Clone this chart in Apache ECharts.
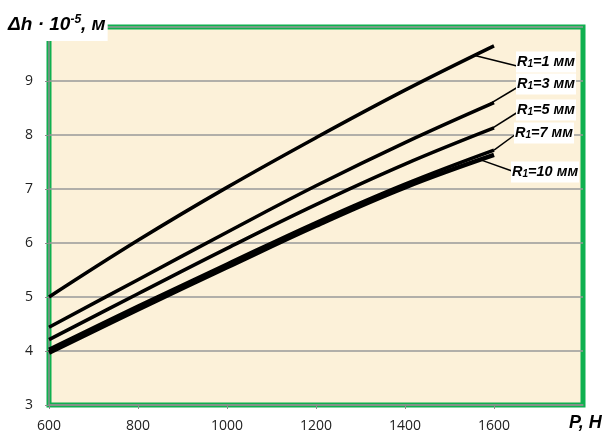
<!DOCTYPE html>
<html>
<head>
<meta charset="utf-8">
<script src="https://cdn.jsdelivr.net/npm/echarts@6/dist/echarts.min.js"></script>
<style>
html, body { margin: 0; padding: 0; background: #fff; }
#chart { width: 610px; height: 434px; }
</style>
</head>
<body>
<div id="chart"></div>
<script>
// P, H
const forces = [600, 800, 1000, 1200, 1400, 1600]
// Δh·10^-5 m for each R1
const r1 = [5.0, 6.05, 7.03, 7.95, 8.83, 9.65]
const r3 = [4.44, 5.32, 6.2, 7.06, 7.86, 8.6]
const r5 = [4.21, 5.06, 5.9, 6.71, 7.46, 8.13]
const r7 = [4.03, 4.83, 5.61, 6.38, 7.09, 7.72]
const r10 = [3.97, 4.77, 5.55, 6.32, 7.03, 7.63]
const radii = ['1', '3', '5', '7', '10']
const xTicks = [600, 800, 1000, 1200, 1400, 1600, 1800]
const yTicks = [3, 4, 5, 6, 7, 8, 9, 10]

const allSeries = [r1, r3, r5, r7, r10]
const widths = [3.5, 3.5, 3.5, 3.5, 4.5]

const chart = echarts.init(document.getElementById('chart'))

const labelFont = 'Liberation Sans'

chart.setOption({
  animation: false,
  grid: {
    left: 49, right: 27, top: 27, bottom: 29,
    show: true,
    backgroundColor: '#fcf1d9',
    borderColor: '#0fb04f',
    borderWidth: 5
  },
  xAxis: {
    type: 'value',
    min: xTicks[0],
    max: xTicks[xTicks.length - 1],
    interval: xTicks[1] - xTicks[0],
    axisLine: { lineStyle: { color: '#8c8c8c', width: 1.5 } },
    axisTick: { show: true, length: 4, lineStyle: { color: '#8c8c8c' } },
    splitLine: { show: false },
    axisLabel: {
      showMaxLabel: false,
      margin: 14,
      color: '#222',
      fontSize: 14,
      fontFamily: 'Open Sans',
      formatter: v => String(v)
    }
  },
  yAxis: {
    type: 'value',
    min: yTicks[0],
    max: yTicks[yTicks.length - 1],
    interval: 1,
    axisLine: { show: true, lineStyle: { color: '#8c8c8c', width: 1.5 } },
    axisTick: { show: true, length: 4, lineStyle: { color: '#8c8c8c' } },
    splitLine: { show: true, lineStyle: { color: '#999', width: 1.5 } },
    axisLabel: {
      showMaxLabel: false,
      margin: 16,
      color: '#222',
      fontSize: 14,
      fontFamily: 'Open Sans'
    }
  },
  series: allSeries.map((vals, i) => ({
    name: 'R1=' + radii[i],
    type: 'line',
    smooth: 0.4,
    symbol: 'none',
    z: 3,
    lineStyle: { color: '#000', width: widths[i] },
    data: forces.map((p, k) => [p, vals[k]])
  }))
})

// value on a curve between data points (anchor for leader lines)
function valueAt(vals, p) {
  for (let k = 0; k < forces.length - 1; k++) {
    if (p <= forces[k + 1]) {
      const t = (p - forces[k]) / (forces[k + 1] - forces[k])
      return vals[k] + t * (vals[k + 1] - vals[k])
    }
  }
  return vals[vals.length - 1]
}

// label boxes: [left x, centre y], leader end, anchor P
const labelPos = [[516, 62], [516, 84], [516, 110], [514, 133], [511, 172]]
const leaderEnd = [[517, 66], [518, 87], [518, 112], [516, 134], [512, 171]]
const anchorP = [1557, 1582, 1592, 1600, 1570]

const bi = { fontFamily: labelFont, fontWeight: 'bold', fontStyle: 'italic', fill: '#000' }

const graphics = []
allSeries.forEach((vals, i) => {
  const a = chart.convertToPixel({ gridIndex: 0 }, [anchorP[i], valueAt(vals, anchorP[i])])
  graphics.push({
    type: 'line', z: 10,
    shape: { x1: a[0], y1: a[1], x2: leaderEnd[i][0], y2: leaderEnd[i][1] },
    style: { stroke: '#000', lineWidth: 1.5 }
  })
  graphics.push({
    type: 'text', z: 11,
    x: labelPos[i][0], y: labelPos[i][1],
    style: {
      text: '{m|R}{s|1}{m|=' + radii[i] + ' мм}',
      verticalAlign: 'middle',
      backgroundColor: '#fff',
      padding: [1, 1, 1, 1],
      rich: {
        m: Object.assign({ fontSize: 14.5, height: 15 }, bi),
        s: Object.assign({ fontSize: 10, height: 15, verticalAlign: 'bottom', padding: [4, 0, 0, 0] }, bi)
      }
    }
  })
})

// axis titles
graphics.push({
  type: 'text', z: 11, x: 6, y: 8,
  style: {
    text: '{m|Δh · 10}{s|-5}{m|, м}',
    backgroundColor: '#fff',
    padding: [1, 2, 1, 2],
    rich: {
      m: Object.assign({ fontSize: 19, height: 22 }, bi),
      s: Object.assign({ fontSize: 12, height: 22, verticalAlign: 'top', padding: [0, 0, 9, 0] }, bi)
    }
  }
})
graphics.push({
  type: 'text', z: 11, x: 569, y: 414,
  style: Object.assign({ text: 'P, H', fontSize: 18 }, bi)
})

chart.setOption({ graphic: graphics })
</script>
</body>
</html>
